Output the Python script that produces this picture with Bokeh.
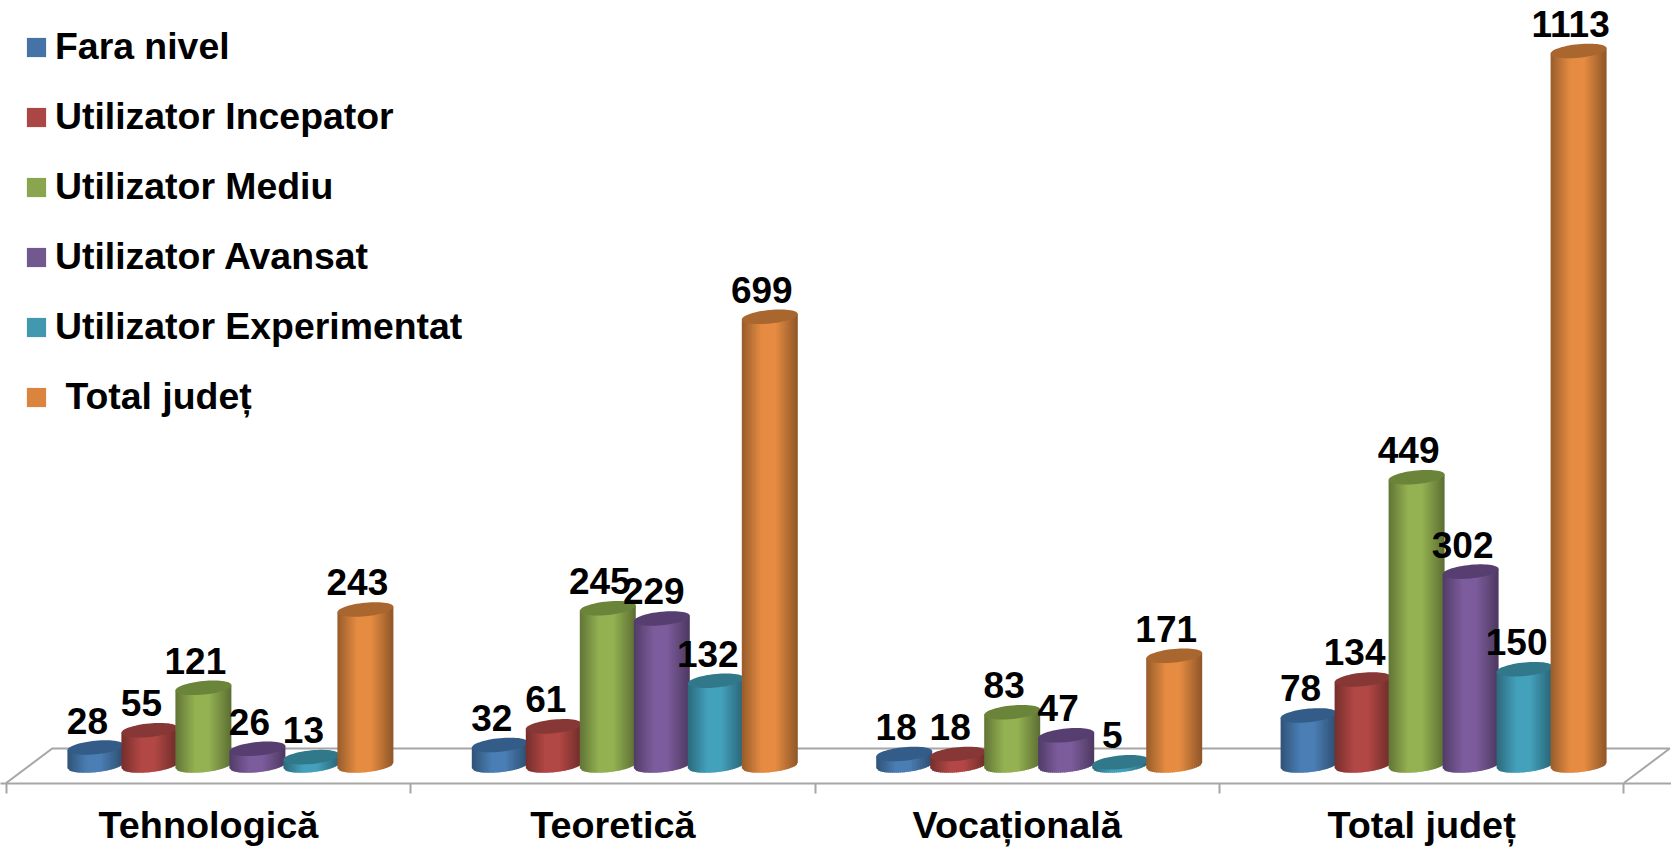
import numpy as np
from bokeh.plotting import figure
from bokeh.models import Range1d, LinearAxis, FixedTicker, Legend, LegendItem, ColumnDataSource
from bokeh.core.properties import value
from bokeh.embed import file_html
from bokeh.resources import INLINE

categories = ["Tehnologică", "Teoretică", "Vocațională", "Total județ"]
series_names = ["Fara nivel", "Utilizator Incepator", "Utilizator Mediu",
                "Utilizator Avansat", "Utilizator Experimentat", " Total județ"]
fara_nivel = [28, 32, 18, 78]
incepator = [55, 61, 18, 134]
mediu = [121, 245, 83, 449]
avansat = [26, 229, 47, 302]
experimentat = [13, 132, 5, 150]
total = [243, 699, 171, 1113]
all_series = [fara_nivel, incepator, mediu, avansat, experimentat, total]

legend_colors = ["#4572A7", "#AA4643", "#89A54E", "#71588F", "#4198AF", "#DB843D"]
body_colors = [(74, 126, 180), (178, 72, 69), (148, 178, 82), (124, 92, 156), (67, 161, 188), (230, 140, 66)]
lid_colors = ["#345C88", "#873735", "#6A8439", "#563F70", "#30788A", "#A9662F"]

FONT = "Liberation Sans"
W, H = 1671, 857
AX_Y = 783          # screen row of the front axis line
BASE_Y = 765.0      # screen row of the value zero
PX_X = 404.4        # pixels per category
PX_Y = 0.642        # pixels per unit of value
CX0 = 207.9         # screen column of the first category
dx = lambda px: px / PX_X
dy = lambda px: px / PX_Y

p = figure(width=W, height=H, output_backend="svg", toolbar_location=None,
           x_range=Range1d(-CX0 / PX_X, (W - CX0) / PX_X),
           y_range=Range1d(-(AX_Y - BASE_Y) / PX_Y, BASE_Y / PX_Y),
           x_axis_location=None, y_axis_location=None,
           min_border_left=0, min_border_right=0, min_border_top=0, min_border_bottom=H - AX_Y,
           outline_line_color=None, background_fill_color="white", border_fill_color="white",
           styles={"position": "absolute", "left": "0", "top": "0"})
p.grid.visible = False

GREY = "#A6A6A6"
# floor of the 3-D chart
n = len(categories)
left, right = -0.5, n - 0.5
p.line([left, left + dx(46), right + dx(46), right], [-(AX_Y - BASE_Y) / PX_Y + dy(0.5), dy(BASE_Y - 748), dy(BASE_Y - 748), -(AX_Y - BASE_Y) / PX_Y + dy(0.5)],
       line_color=GREY, line_width=2)

# front axis with its ticks, then the axis that carries the names
axis = LinearAxis(ticker=FixedTicker(ticks=[i - 0.5 for i in range(n + 1)]),
                  major_tick_in=0, major_tick_out=10, minor_tick_line_color=None,
                  axis_line_color=GREY, axis_line_width=2, major_tick_line_color=GREY, major_tick_line_width=2,
                  major_label_text_font_size="1px", major_label_text_color=None, major_label_standoff=0)
p.add_layout(axis, "below")
names = LinearAxis(ticker=FixedTicker(ticks=list(range(n))),
                   major_label_overrides={i: c for i, c in enumerate(categories)},
                   axis_line_color=None, major_tick_line_color=None, minor_tick_line_color=None,
                   major_tick_in=0, major_tick_out=0, major_label_standoff=10,
                   major_label_text_font=FONT, major_label_text_font_style="bold",
                   major_label_text_font_size="37.8px", major_label_text_color="black")
p.add_layout(names, "below")

# cylinders
A, B, K = 28.0, 6.8, 0.095
STEP = 54.0
OFFS = [-113 + STEP * i for i in range(len(all_series))]
u_edges = np.linspace(-1, 1, 29)
shade = lambda u: np.interp(u, [-1, -0.3, 0.2, 1], [0.66, 1, 1, 0.62])
t = np.linspace(0, 2 * np.pi, 61)
items = []
for s, vals in enumerate(all_series):
    x = np.arange(n) + dx(OFFS[s])
    base = p.vbar(x=x, width=dx(2 * A - 4), top=vals, bottom=0, fill_color=legend_colors[s], line_color=None)
    items.append(LegendItem(label=series_names[s], renderers=[base]))
    xs, ys, cols = [], [], []
    lx, ly = [], []
    for xc, v in zip(x, vals):
        for u0, u1 in zip(u_edges[:-1], u_edges[1:]):
            um = (u0 + u1) / 2
            ue = min(u1 + 0.03, 1.0)
            f = shade(um)
            xs.append([xc + dx(A * u0), xc + dx(A * ue), xc + dx(A * ue), xc + dx(A * u0)])
            ys.append([v + dy(K * A * u0), v + dy(K * A * ue),
                       dy(K * A * ue - B * np.sqrt(1 - ue ** 2)), dy(K * A * u0 - B * np.sqrt(1 - u0 ** 2))])
            cols.append("#%02X%02X%02X" % tuple(int(c * f) for c in body_colors[s]))
        lx.append(xc + dx(A * np.cos(t)))
        ly.append(v + dy(B * np.sin(t) + K * A * np.cos(t)))
    p.patches(xs, ys, fill_color=cols, line_color=None)
    p.patches(lx, ly, fill_color=lid_colors[s], line_color=None)

# value labels on top of everything
for s, vals in enumerate(all_series):
    x = np.arange(n) + dx(OFFS[s])
    src = ColumnDataSource(dict(x=x, y=vals, t=[str(v) for v in vals]))
    p.text("x", "y", text="t", source=src, x_offset=-8, y_offset=-27, text_align="center",
           text_baseline="alphabetic", text_font=value(FONT), text_font_style="bold",
           text_font_size="37px", text_color="black")

legend = Legend(items=items, orientation="vertical",
                background_fill_alpha=0, border_line_color=None, padding=0, margin=0,
                glyph_width=24, glyph_height=24, label_standoff=7, spacing=27,
                label_text_font=FONT, label_text_font_style="bold", label_text_font_size="37.4px",
                label_text_color="black")
legend.location = (24, AX_Y - 418)
p.add_layout(legend)

open("out.html", "w").write(file_html(p, INLINE))
